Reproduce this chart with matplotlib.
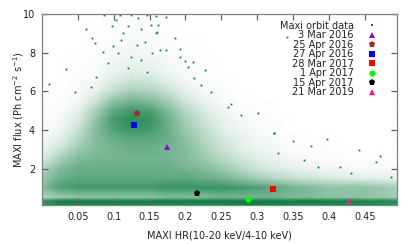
import matplotlib
matplotlib.use("Agg")
import matplotlib.pyplot as plt
import numpy as np
from matplotlib.colors import LinearSegmentedColormap
from matplotlib.image import NonUniformImage

plt.rcParams["font.family"] = ["DejaVu Sans"]

# ── データ ──
# 点群の密度（ノード上の値、0〜1）
hr_nodes = [0.0, 0.025, 0.05, 0.075, 0.1, 0.125, 0.15, 0.175, 0.2, 0.225, 0.25,
            0.275, 0.3, 0.325, 0.35, 0.375, 0.4, 0.425, 0.45, 0.475, 0.5]
flux_nodes = [0.12, 0.3, 0.5, 1.0, 1.5, 2.0, 2.5, 3.0, 3.5, 4.0, 4.5, 5.0, 5.5,
              6.0, 6.5, 7.0, 8.0, 9.0, 10.0]
density = [
    [0.8, 0.9, 0.9, 0.9, 0.9, 0.9, 0.9, 0.9, 0.9, 0.9, 0.9, 0.95, 0.95, 0.95, 0.9, 0.9, 0.9, 0.9, 0.9, 0.85, 0.8],
    [0.8, 0.95, 0.95, 0.95, 0.95, 0.95, 0.95, 0.95, 0.95, 0.95, 0.95, 0.95, 0.95, 0.95, 0.95, 0.95, 0.95, 0.95, 0.9, 0.9, 0.85],
    [0.3, 0.4, 0.45, 0.45, 0.45, 0.45, 0.45, 0.5, 0.5, 0.5, 0.55, 0.55, 0.55, 0.55, 0.5, 0.5, 0.45, 0.45, 0.45, 0.4, 0.35],
    [0.5, 0.7, 0.75, 0.75, 0.75, 0.75, 0.75, 0.8, 0.8, 0.8, 0.8, 0.75, 0.7, 0.65, 0.55, 0.5, 0.45, 0.45, 0.45, 0.4, 0.35],
    [0.4, 0.6, 0.65, 0.65, 0.65, 0.65, 0.65, 0.65, 0.65, 0.6, 0.55, 0.45, 0.35, 0.28, 0.22, 0.18, 0.15, 0.12, 0.1, 0.1, 0.08],
    [0.3, 0.5, 0.6, 0.6, 0.6, 0.6, 0.6, 0.6, 0.55, 0.5, 0.4, 0.3, 0.2, 0.14, 0.1, 0.07, 0.05, 0.04, 0.03, 0.03, 0.02],
    [0.15, 0.35, 0.5, 0.55, 0.55, 0.55, 0.55, 0.55, 0.5, 0.4, 0.3, 0.2, 0.12, 0.08, 0.05, 0.03, 0.02, 0.01, 0.01, 0.01, 0.0],
    [0.08, 0.2, 0.4, 0.5, 0.55, 0.6, 0.6, 0.55, 0.5, 0.35, 0.22, 0.12, 0.07, 0.04, 0.02, 0.01, 0.01, 0.0, 0.0, 0.0, 0.0],
    [0.03, 0.12, 0.3, 0.5, 0.6, 0.65, 0.65, 0.6, 0.45, 0.3, 0.18, 0.1, 0.05, 0.03, 0.01, 0.0, 0.0, 0.0, 0.0, 0.0, 0.0],
    [0.02, 0.06, 0.22, 0.5, 0.7, 0.8, 0.75, 0.6, 0.4, 0.25, 0.12, 0.06, 0.03, 0.01, 0.0, 0.0, 0.0, 0.0, 0.0, 0.0, 0.0],
    [0.01, 0.04, 0.15, 0.45, 0.75, 0.85, 0.8, 0.6, 0.35, 0.2, 0.1, 0.04, 0.02, 0.01, 0.0, 0.0, 0.0, 0.0, 0.0, 0.0, 0.0],
    [0.01, 0.02, 0.1, 0.35, 0.65, 0.75, 0.7, 0.5, 0.28, 0.14, 0.06, 0.02, 0.01, 0.0, 0.0, 0.0, 0.0, 0.0, 0.0, 0.0, 0.0],
    [0.0, 0.01, 0.05, 0.2, 0.45, 0.55, 0.5, 0.35, 0.18, 0.08, 0.03, 0.01, 0.0, 0.0, 0.0, 0.0, 0.0, 0.0, 0.0, 0.0, 0.0],
    [0.0, 0.0, 0.03, 0.1, 0.25, 0.35, 0.32, 0.22, 0.1, 0.04, 0.02, 0.0, 0.0, 0.0, 0.0, 0.0, 0.0, 0.0, 0.0, 0.0, 0.0],
    [0.0, 0.0, 0.02, 0.05, 0.15, 0.22, 0.2, 0.12, 0.05, 0.02, 0.01, 0.0, 0.0, 0.0, 0.0, 0.0, 0.0, 0.0, 0.0, 0.0, 0.0],
    [0.0, 0.0, 0.01, 0.03, 0.08, 0.12, 0.11, 0.06, 0.02, 0.01, 0.0, 0.0, 0.0, 0.0, 0.0, 0.0, 0.0, 0.0, 0.0, 0.0, 0.0],
    [0.0, 0.0, 0.0, 0.01, 0.03, 0.05, 0.04, 0.02, 0.01, 0.0, 0.0, 0.0, 0.0, 0.0, 0.0, 0.0, 0.0, 0.0, 0.0, 0.0, 0.0],
    [0.0, 0.0, 0.0, 0.0, 0.01, 0.02, 0.02, 0.01, 0.0, 0.0, 0.0, 0.0, 0.0, 0.0, 0.0, 0.0, 0.0, 0.0, 0.0, 0.0, 0.0],
    [0.0] * 21,
]

# 疎な領域の個別点
sparse_hr = [0.010, 0.033, 0.046, 0.061, 0.070, 0.074, 0.087, 0.097, 0.109, 0.103,
             0.113, 0.124, 0.120, 0.134, 0.138, 0.147, 0.152, 0.159, 0.085, 0.099,
             0.110, 0.133, 0.143, 0.092, 0.075, 0.068, 0.106, 0.124, 0.138, 0.154,
             0.120, 0.147, 0.159, 0.173, 0.162, 0.161, 0.185, 0.164, 0.173, 0.193,
             0.193, 0.199, 0.211, 0.203, 0.228, 0.212, 0.222, 0.236, 0.264, 0.259,
             0.342, 0.350, 0.375, 0.398, 0.442, 0.472, 0.466, 0.323, 0.415, 0.431,
             0.385, 0.366, 0.487, 0.278, 0.301, 0.324, 0.329]
sparse_flux = [6.37, 7.17, 5.98, 9.20, 8.77, 8.48, 9.97, 9.39, 9.97, 9.68,
               9.00, 9.94, 9.40, 9.77, 9.25, 9.97, 9.43, 9.00, 8.05, 8.34,
               8.65, 8.40, 8.56, 7.45, 6.75, 6.24, 7.96, 7.79, 7.62, 7.96,
               7.19, 7.01, 9.89, 9.86, 9.43, 9.08, 8.74, 8.13, 8.13, 8.17,
               7.76, 7.58, 7.53, 7.27, 7.10, 6.67, 6.33, 5.98, 5.34, 5.20,
               8.80, 3.45, 3.17, 3.52, 2.97, 2.66, 2.36, 3.86, 2.07, 1.79,
               2.07, 2.45, 1.56, 4.78, 4.86, 3.83, 2.80]

# 特定日の観測
events = ["3 Mar 2016", "25 Apr 2016", "27 Apr 2016", "28 Mar 2017",
          "1 Apr 2017", "15 Apr 2017", "21 Mar 2019"]
event_hr = [0.174, 0.133, 0.128, 0.322, 0.288, 0.216, 0.428]
event_flux = [3.10, 4.86, 4.24, 0.97, 0.43, 0.76, 0.31]
event_colors = ["#9400d3", "#a52a2a", "#0000ff", "#ff0000", "#00ff00", "#000000", "#ff1493"]
event_markers = ["^", "p", "s", "s", "o", "p", "^"]

# ── 描画 ──
fig = plt.figure(figsize=(4.13, 2.44), dpi=100)
ax = fig.add_axes([0.1017, 0.16, 0.8593, 0.7826])

green = "#00803f"
cmap = LinearSegmentedColormap.from_list("dens", ["#ffffff", "#077a3b"])
im = NonUniformImage(ax, interpolation="bilinear", cmap=cmap,
                     extent=(hr_nodes[0], hr_nodes[-1], flux_nodes[0], flux_nodes[-1]))
im.set_data(np.array(hr_nodes), np.array(flux_nodes), np.array(density))
im.set_clim(0, 1)
im.set_zorder(1)
ax.add_image(im)

ax.plot(sparse_hr, sparse_flux, ls="none", marker="s", ms=1.3, mew=0,
        color=green, label="Maxi orbit data", zorder=2)

for lab, x, y, c, m in zip(events, event_hr, event_flux, event_colors, event_markers):
    ax.plot([x], [y], ls="none", marker=m, ms=4.5, mew=0, color=c, label=lab, zorder=3)

ax.set_xlim(0, 0.495)
ax.set_ylim(0.12, 10)
ax.set_xticks([0.05, 0.1, 0.15, 0.2, 0.25, 0.3, 0.35, 0.4, 0.45])
ax.set_xticklabels(["0.05", "0.1", "0.15", "0.2", "0.25", "0.3", "0.35", "0.4", "0.45"])
ax.set_yticks([2, 4, 6, 8, 10])

for s in ax.spines.values():
    s.set_color("#808080")
    s.set_linewidth(0.9)
    s.set_zorder(4)
ax.tick_params(direction="in", length=4, width=0.9, color="#606060",
               labelsize=7, labelcolor="#222222", top=True, right=True, pad=5)

ax.set_xlabel("MAXI HR(10-20 keV/4-10 keV)", fontsize=7, color="#222222", labelpad=6)
ax.set_ylabel("MAXI flux (Ph cm$^{-2}$ s$^{-1}$)", fontsize=7, color="#222222")
ax.yaxis.set_label_coords(-0.045, 0.5)

leg = ax.legend(loc="upper right", bbox_to_anchor=(0.944, 0.965), markerfirst=False,
                frameon=False, fontsize=7, handlelength=1.0, handletextpad=1.4,
                labelspacing=-0.05, borderpad=0, borderaxespad=0, markerscale=1)
for t in leg.get_texts():
    t.set_color("#222222")
leg.legend_handles[0].set_markersize(2)

fig.savefig("out.png", dpi=100)
